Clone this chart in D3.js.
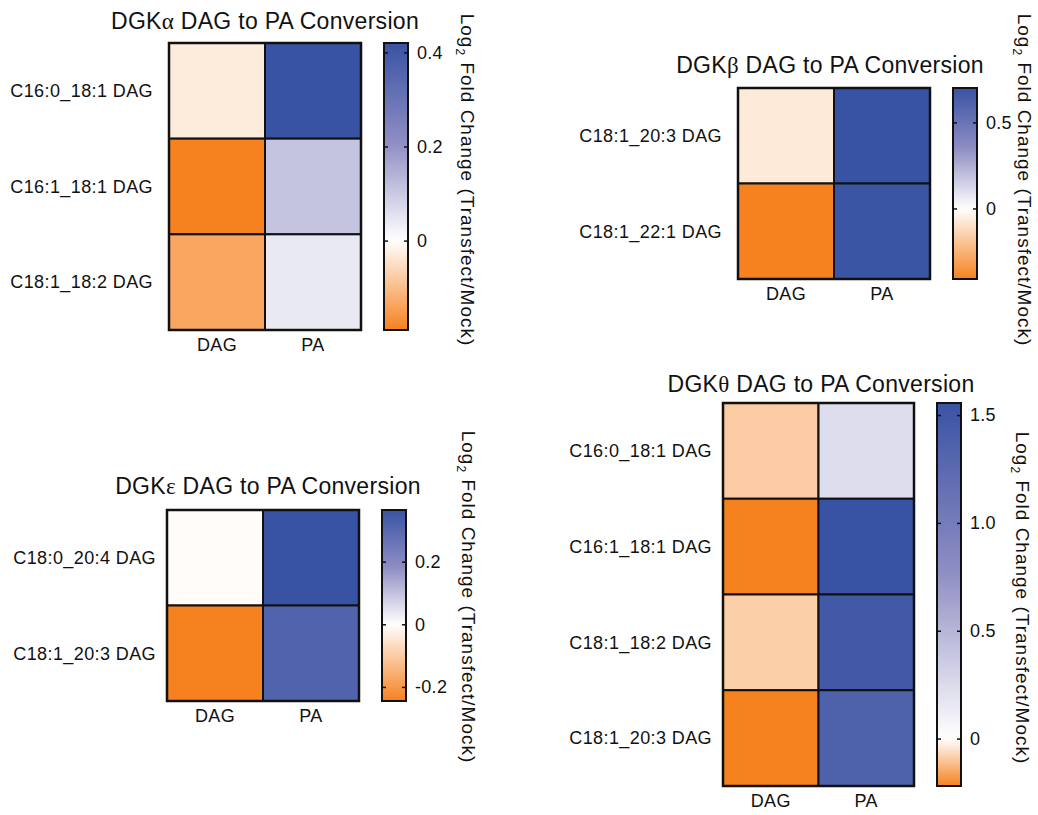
<!DOCTYPE html>
<html>
<head>
<meta charset="utf-8">
<script src="https://cdn.jsdelivr.net/npm/d3@7"></script>
<style>
  body { margin: 0; background: #fff; }
  svg { font-family: Arial, "Liberation Sans", sans-serif; }
</style>
</head>
<body>
<svg id="chart" width="1038" height="815"></svg>
<script>
// ---- data (Log2 fold change, transfect / mock) ----
let columns = ["DAG", "PA"];

let alphaRows = ["C16:0_18:1 DAG", "C16:1_18:1 DAG", "C18:1_18:2 DAG"];
let alphaValues = [[-0.03, 0.42], [-0.19, 0.11], [-0.135, 0.04]];
let alphaTicks = [0, 0.2, 0.4];

let betaRows = ["C18:1_20:3 DAG", "C18:1_22:1 DAG"];
let betaValues = [[-0.07, 0.70], [-0.41, 0.69]];
let betaTicks = [0, 0.5];

let epsilonRows = ["C18:0_20:4 DAG", "C18:1_20:3 DAG"];
let epsilonValues = [[-0.005, 0.365], [-0.245, 0.315]];
let epsilonTicks = [-0.2, 0, 0.2];

let thetaRows = ["C16:0_18:1 DAG", "C16:1_18:1 DAG", "C18:1_18:2 DAG", "C18:1_20:3 DAG"];
let thetaValues = [[-0.09, 0.23], [-0.22, 1.556], [-0.085, 1.47], [-0.22, 1.36]];
let thetaTicks = [0, 0.5, 1.0, 1.5];

// ---- panels: data + where they sit on the page ----
let panels = [
    {greek: "\u03b1", rows: alphaRows, values: alphaValues, ticks: alphaTicks,
     heat: {x: 169, y: 43, w: 192, h: 287}, bar: {x: 384, w: 24}, labelGap: 16,
     title: {x: 265, y: 29}, ctitle: {x: 461, y: 180}},
    {greek: "\u03b2", rows: betaRows, values: betaValues, ticks: betaTicks,
     heat: {x: 738, y: 88, w: 192, h: 191}, bar: {x: 953, w: 24}, labelGap: 16,
     title: {x: 830, y: 73}, ctitle: {x: 1018, y: 180}},
    {greek: "\u03b5", rows: epsilonRows, values: epsilonValues, ticks: epsilonTicks,
     heat: {x: 167, y: 510, w: 192, h: 191}, bar: {x: 382, w: 24}, labelGap: 11,
     title: {x: 268, y: 494}, ctitle: {x: 462, y: 597}},
    {greek: "\u03b8", rows: thetaRows, values: thetaValues, ticks: thetaTicks,
     heat: {x: 723, y: 403, w: 191, h: 383}, bar: {x: 937, w: 24}, labelGap: 11,
     title: {x: 821, y: 392}, ctitle: {x: 1016, y: 598}}
];

let orange = "#f5821f", white = "#ffffff", midBlue = "#8e8dc3", blue = "#3953a4";
let svg = d3.select("#chart");
let defs = svg.append("defs");

let tickFormat = d => d === 0 ? "0" : (d < 0 ? "-" : "") + Math.abs(d).toFixed(1);

panels.forEach((p, pi) => {
    let flat = p.values.flat();
    let lo = d3.min(flat), hi = d3.max(flat);

    let color = d3.scaleLinear()
        .domain([lo, 0, hi / 2, hi])
        .range([orange, white, midBlue, blue])
        .clamp(true);

    let x = d3.scaleBand().domain(columns).range([p.heat.x, p.heat.x + p.heat.w]);
    let y = d3.scaleBand().domain(p.rows).range([p.heat.y, p.heat.y + p.heat.h]);

    let g = svg.append("g");

    // cells
    p.rows.forEach((r, ri) => {
        columns.forEach((c, ci) => {
            g.append("rect")
                .attr("x", x(c))
                .attr("y", y(r))
                .attr("width", x.bandwidth())
                .attr("height", y.bandwidth())
                .attr("fill", color(p.values[ri][ci]))
                .attr("stroke", "#111")
                .attr("stroke-width", 2);
        });
    });
    g.append("rect")
        .attr("x", p.heat.x).attr("y", p.heat.y)
        .attr("width", p.heat.w).attr("height", p.heat.h)
        .attr("fill", "none").attr("stroke", "#111").attr("stroke-width", 2.5);

    // row labels
    g.selectAll(".rowlab").data(p.rows).enter().append("text")
        .attr("x", p.heat.x - p.labelGap)
        .attr("y", d => y(d) + y.bandwidth() / 2)
        .attr("dy", "0.35em")
        .attr("text-anchor", "end")
        .attr("font-size", 18)
        .attr("letter-spacing", 0.4)
        .attr("fill", "#111")
        .text(d => d);

    // column labels
    g.selectAll(".collab").data(columns).enter().append("text")
        .attr("x", d => x(d) + x.bandwidth() / 2)
        .attr("y", p.heat.y + p.heat.h + 21)
        .attr("text-anchor", "middle")
        .attr("font-size", 18)
        .attr("letter-spacing", 0.4)
        .attr("fill", "#111")
        .text(d => d);

    // title
    let t = g.append("text")
        .attr("x", p.title.x).attr("y", p.title.y)
        .attr("text-anchor", "middle")
        .attr("font-size", 23)
        .attr("letter-spacing", 0.3)
        .attr("fill", "#111");
    t.append("tspan").text("DGK");
    t.append("tspan").attr("font-family", "'Liberation Serif', 'DejaVu Serif', serif").text(p.greek);
    t.append("tspan").text(" DAG to PA Conversion");

    // colour bar
    let gid = "grad" + pi;
    let grad = defs.append("linearGradient").attr("id", gid)
        .attr("x1", 0).attr("y1", 1).attr("x2", 0).attr("y2", 0);
    d3.range(0, 1.0001, 0.02).forEach(f => {
        grad.append("stop")
            .attr("offset", f)
            .attr("stop-color", color(lo + f * (hi - lo)));
    });
    let by = d3.scaleLinear().domain([lo, hi]).range([p.heat.y + p.heat.h, p.heat.y]);

    g.append("rect")
        .attr("x", p.bar.x).attr("y", p.heat.y)
        .attr("width", p.bar.w).attr("height", p.heat.h)
        .attr("fill", "url(#" + gid + ")")
        .attr("stroke", "#111").attr("stroke-width", 2);

    let axR = g.append("g")
        .attr("transform", "translate(" + (p.bar.x + p.bar.w) + ",0)")
        .call(d3.axisRight(by).tickValues(p.ticks).tickSize(-4).tickPadding(9).tickFormat(tickFormat));
    let axL = g.append("g")
        .attr("transform", "translate(" + p.bar.x + ",0)")
        .call(d3.axisLeft(by).tickValues(p.ticks).tickSize(-4).tickFormat(""));
    [axR, axL].forEach(a => {
        a.select(".domain").remove();
        a.selectAll(".tick line").attr("stroke", "#111").attr("stroke-width", 1.5);
    });
    axR.selectAll(".tick text")
        .attr("font-size", 18)
        .attr("letter-spacing", 0.3)
        .attr("font-family", "Arial, 'Liberation Sans', sans-serif")
        .attr("fill", "#111");

    // colour bar title, reads top to bottom
    let ct = g.append("text")
        .attr("transform", "translate(" + p.ctitle.x + "," + p.ctitle.y + ") rotate(90)")
        .attr("text-anchor", "middle")
        .attr("font-size", 19)
        .attr("letter-spacing", 1)
        .attr("fill", "#111");
    ct.append("tspan").text("Log");
    ct.append("tspan").attr("font-size", 12).attr("dy", 5).text("2");
    ct.append("tspan").attr("dy", -5).text(" Fold Change (Transfect/Mock)");
});
</script>
</body>
</html>
